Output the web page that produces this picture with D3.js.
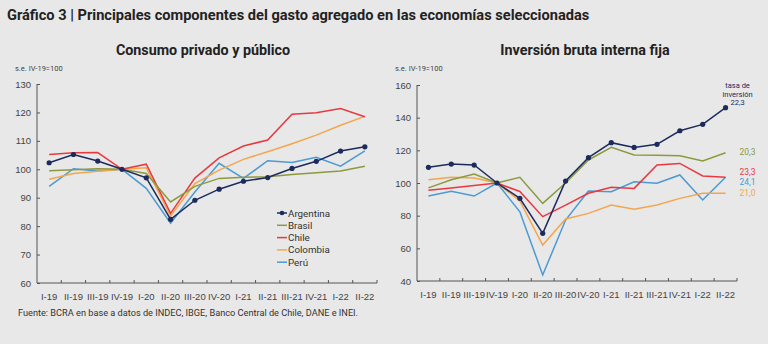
<!DOCTYPE html>
<html>
<head>
<meta charset="utf-8">
<script src="https://cdn.jsdelivr.net/npm/d3@7"></script>
<style>
  body { margin: 0; background: #e8e8e8; }
  svg { font-family: Roboto, "Noto Sans", sans-serif; }
  .axis path, .axis line { stroke: #555; }
  .axis text { fill: #444; font-size: 9.5px; }
</style>
</head>
<body>
<svg id="chart" width="768" height="344"></svg>
<script>
var quarters = ["I-19", "II-19", "III-19", "IV-19", "I-20", "II-20", "III-20", "IV-20",
                "I-21", "II-21", "III-21", "IV-21", "I-22", "II-22"];

var countries = ["Argentina", "Brasil", "Chile", "Colombia", "Perú"];
var colors = ["#1c2b5c", "#8c9a3e", "#e8393f", "#f4a64c", "#4a9ad4"];

// consumo privado y publico
var consArgentina = [102.3, 105.2, 102.9, 100, 97.0, 82.4, 89.1, 93.0, 95.8, 97.1, 100.3, 102.8, 106.4, 107.9];
var consBrasil    = [99.5, 99.8, 100.2, 100, 98.5, 88.5, 94.0, 96.8, 97.2, 97.4, 98.2, 98.8, 99.4, 101.1];
var consChile     = [105.2, 105.8, 105.9, 100, 101.8, 84.5, 96.9, 104.0, 108.2, 110.3, 119.4, 119.9, 121.4, 118.5];
var consColombia  = [96.5, 98.5, 99.3, 100, 100.5, 83.5, 95.0, 99.7, 103.5, 106.2, 109.0, 112.0, 115.5, 118.6];
var consPeru      = [94.0, 100.2, 99.4, 100, 93.3, 81.0, 92.0, 102.1, 96.8, 103.0, 102.4, 104.2, 101.1, 106.5];

// inversion bruta interna fija
var invArgentina = [109.6, 111.6, 111.0, 100, 90.6, 69.2, 101.2, 115.5, 124.7, 121.8, 123.7, 132.0, 135.9, 146.1];
var invBrasil    = [97.0, 102.0, 105.5, 100, 103.5, 87.5, 100.0, 114.1, 121.8, 117.1, 117.0, 116.7, 113.5, 118.5];
var invChile     = [95.5, 97.0, 98.5, 100, 94.8, 79.4, 86.5, 93.7, 97.4, 96.7, 111.0, 112.0, 104.3, 103.5];
var invColombia  = [102.0, 103.5, 103.0, 100, 89.0, 62.0, 78.0, 81.4, 86.5, 83.9, 86.5, 90.6, 93.7, 93.7];
var invPeru      = [92.0, 95.0, 92.0, 100, 82.4, 43.7, 77.3, 95.1, 94.7, 100.8, 99.8, 104.9, 89.6, 103.5];

var consTicks = [60, 70, 80, 90, 100, 110, 120, 130];
var invTicks = [40, 60, 80, 100, 120, 140, 160];

// last value labels for right panel
var invLabels = ["22,3", "20,3", "23,3", "21,0", "24,1"];

var svg = d3.select("#chart");

svg.append("text")
  .attr("x", 7).attr("y", 20)
  .style("font-size", "14.6px").style("font-weight", "bold").style("fill", "#222")
  .text("Gráfico 3 | Principales componentes del gasto agregado en las economías seleccionadas");

svg.append("text")
  .attr("x", 18).attr("y", 316)
  .style("font-size", "9.2px").style("fill", "#333")
  .text("Fuente: BCRA en base a datos de INDEC, IBGE, Banco Central de Chile, DANE e INEI.");

function drawPanel(opts) {
  var x = d3.scaleBand().domain(quarters).range([opts.left, opts.right]);
  var y = d3.scaleLinear().domain(opts.domain).range([opts.bottom, opts.top]);
  var g = svg.append("g");

  g.append("text")
    .attr("x", opts.titleX).attr("y", 55)
    .style("text-anchor", "middle")
    .style("font-size", "14.3px").style("font-weight", "bold").style("fill", "#222")
    .text(opts.title);

  g.append("text")
    .attr("x", opts.left - 22).attr("y", 71)
    .style("font-size", "7.5px").style("fill", "#444")
    .text("s.e. IV-19=100");

  var yAxis = g.append("g")
    .attr("class", "axis")
    .attr("transform", "translate(" + opts.left + ",0)")
    .call(d3.axisLeft(y).tickValues(opts.ticks).tickSize(-3).tickPadding(6));
  yAxis.select(".domain").attr("d", "M0," + y(opts.domain[1]) + "V" + y(opts.domain[0]));

  var xAxis = g.append("g")
    .attr("class", "axis")
    .attr("transform", "translate(0," + opts.bottom + ")")
    .call(d3.axisBottom(x).tickSize(0).tickPadding(10));
  xAxis.select(".domain").attr("d", "M" + opts.left + ",0H" + opts.right);
  xAxis.selectAll(".tick text").style("font-size", "9.5px");

  // ticks on band boundaries
  g.selectAll(".bnd")
    .data(quarters)
    .enter().append("line")
    .attr("x1", d => x(d) + x.bandwidth())
    .attr("x2", d => x(d) + x.bandwidth())
    .attr("y1", opts.bottom).attr("y2", opts.bottom - 3)
    .attr("stroke", "#555");

  var line = d3.line()
    .x((d, i) => x(quarters[i]) + x.bandwidth() / 2)
    .y(d => y(d));

  // draw back to front: Peru, Colombia, Chile, Brasil, Argentina
  for (var k = opts.series.length - 1; k >= 0; k--) {
    g.append("path")
      .datum(opts.series[k])
      .attr("fill", "none")
      .attr("stroke", colors[k])
      .attr("stroke-width", 1.5)
      .attr("d", line);
  }

  g.selectAll(".dot")
    .data(opts.series[0])
    .enter().append("circle")
    .attr("cx", (d, i) => x(quarters[i]) + x.bandwidth() / 2)
    .attr("cy", d => y(d))
    .attr("r", 2.6)
    .attr("fill", colors[0]);

  return { x: x, y: y, g: g };
}

var left = drawPanel({
  title: "Consumo privado y público",
  titleX: 203,
  left: 37, right: 377, top: 84, bottom: 283,
  domain: [60, 130], ticks: consTicks,
  series: [consArgentina, consBrasil, consChile, consColombia, consPeru]
});

var right = drawPanel({
  title: "Inversión bruta interna fija",
  titleX: 585,
  left: 417, right: 737, top: 85, bottom: 281,
  domain: [40, 160], ticks: invTicks,
  series: [invArgentina, invBrasil, invChile, invColombia, invPeru]
});

// legend on the left panel
var legend = left.g.append("g").attr("transform", "translate(277,213)");
countries.forEach(function(c, i) {
  var row = legend.append("g").attr("transform", "translate(0," + i * 12.3 + ")");
  row.append("line")
    .attr("x1", 0).attr("x2", 10).attr("y1", 0).attr("y2", 0)
    .attr("stroke", colors[i]).attr("stroke-width", 1.5);
  if (i === 0) {
    row.append("circle").attr("cx", 5).attr("cy", 0).attr("r", 2.3).attr("fill", colors[0]);
  }
  row.append("text")
    .attr("x", 11).attr("y", 3.5)
    .style("font-size", "9.8px").style("fill", "#333")
    .text(c);
});

// end labels on the right panel
var lastX = right.x(quarters[13]) + right.x.bandwidth() / 2;
var note = right.g.append("text")
  .attr("x", lastX + 12).attr("y", 88)
  .style("text-anchor", "middle")
  .style("font-size", "7.5px").style("fill", colors[0]);
note.append("tspan").attr("x", lastX + 12).attr("dy", 0).text("tasa de");
note.append("tspan").attr("x", lastX + 12).attr("dy", 8.5).text("inversión");
note.append("tspan").attr("x", lastX + 12).attr("dy", 8.5).text(invLabels[0]);

var labelY = [0, 155, 175, 196, 185];
for (var k = 1; k < countries.length; k++) {
  right.g.append("text")
    .attr("x", lastX + 14).attr("y", labelY[k])
    .style("font-size", "8.5px").style("fill", colors[k])
    .text(invLabels[k]);
}
</script>
</body>
</html>
